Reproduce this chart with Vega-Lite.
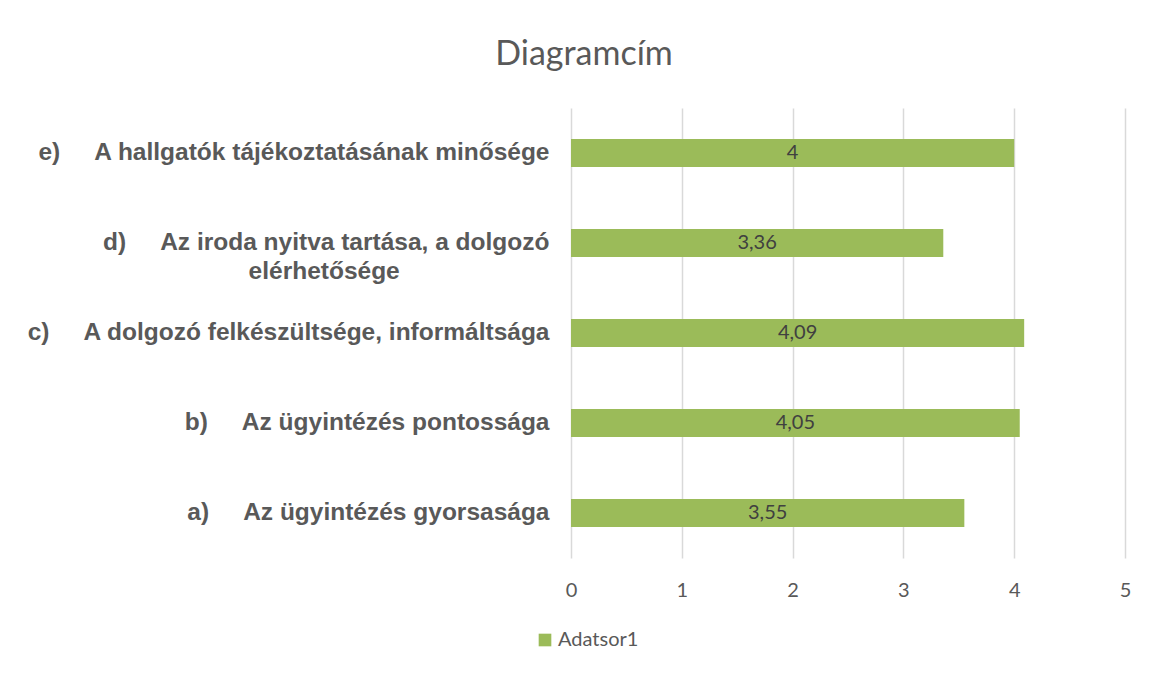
{
  "$schema": "https://vega.github.io/schema/vega-lite/v6.json",
  "width": 554,
  "height": 450,
  "autosize": {"type": "none"},
  "padding": {"left": 571, "top": 108, "right": 35, "bottom": 117},
  "background": "white",
  "title": {
    "text": "Diagramcím",
    "font": "Lato",
    "fontSize": 34,
    "fontWeight": "normal",
    "color": "#595959",
    "anchor": "middle",
    "dx": -264,
    "offset": 36
  },
  "config": {
    "locale": {"number": {"decimal": ",", "thousands": " ", "grouping": [3], "currency": ["", " Ft"]}},
    "view": {"stroke": null}
  },
  "data": {
    "values": [
      {"kat": "e)\u00a0\u00a0\u00a0\u00a0\u00a0A hallgatók tájékoztatásának minősége", "value": 4, "series": "Adatsor1"},
      {"kat": "d)\u00a0\u00a0\u00a0\u00a0\u00a0Az iroda nyitva tartása, a dolgozó|elérhetősége\u00a0\u00a0\u00a0\u00a0\u00a0\u00a0\u00a0\u00a0\u00a0\u00a0\u00a0\u00a0\u00a0\u00a0\u00a0\u00a0\u00a0\u00a0\u00a0\u00a0\u00a0\u00a0\u200b", "value": 3.36, "series": "Adatsor1"},
      {"kat": "c)\u00a0\u00a0\u00a0\u00a0\u00a0A dolgozó felkészültsége, informáltsága", "value": 4.09, "series": "Adatsor1"},
      {"kat": "b)\u00a0\u00a0\u00a0\u00a0\u00a0Az ügyintézés pontossága", "value": 4.05, "series": "Adatsor1"},
      {"kat": "a)\u00a0\u00a0\u00a0\u00a0\u00a0Az ügyintézés gyorsasága", "value": 3.55, "series": "Adatsor1"}
    ]
  },
  "transform": [{"calculate": "datum.value / 2", "as": "mid"}],
  "encoding": {
    "y": {
      "field": "kat",
      "type": "nominal",
      "sort": null,
      "title": null,
      "scale": {"paddingInner": 0.69, "paddingOuter": 0.345},
      "axis": {
        "domain": false,
        "ticks": false,
        "labelExpr": "split(datum.value, '|')",
        "labelFont": "Liberation Sans",
        "labelFontWeight": "bold",
        "labelFontSize": 24.5,
        "labelColor": "#595959",
        "labelPadding": 22,
        "labelLimit": 650,
        "labelLineHeight": 29
      }
    }
  },
  "layer": [
    {
      "mark": {"type": "bar", "color": "#9BBB59"},
      "encoding": {
        "x": {
          "field": "value",
          "type": "quantitative",
          "title": null,
          "scale": {"domain": [0, 5], "nice": false},
          "axis": {
            "values": [0, 1, 2, 3, 4, 5],
            "format": "d",
            "domain": false,
            "ticks": false,
            "labelFlush": false,
            "gridColor": "#d9d9d9",
            "gridWidth": 1.5,
            "labelFont": "Lato",
            "labelFontSize": 20,
            "labelColor": "#595959",
            "labelPadding": 22
          }
        },
        "color": {
          "field": "series",
          "type": "nominal",
          "scale": {"range": ["#9BBB59"]},
          "legend": {
            "title": null,
            "orient": "none",
            "legendX": -36,
            "legendY": 522,
            "symbolType": "square",
            "symbolSize": 160,
            "symbolStrokeWidth": 0,
            "symbolOpacity": 1,
            "labelFont": "Lato",
            "labelFontSize": 20,
            "labelColor": "#595959",
            "labelOffset": 3
          }
        }
      }
    },
    {
      "mark": {"type": "text", "font": "Lato", "fontSize": 20, "color": "#404040", "baseline": "middle", "align": "center"},
      "encoding": {
        "x": {"field": "mid", "type": "quantitative"},
        "text": {"field": "value", "type": "quantitative", "format": "~r"}
      }
    }
  ]
}
